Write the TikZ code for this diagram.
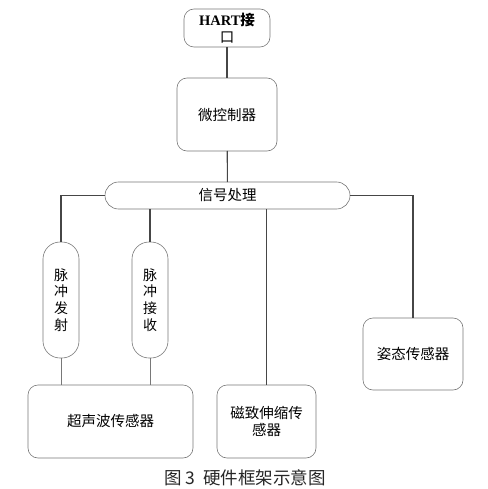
\documentclass[tikz,border=0pt]{standalone}
\usepackage{fontspec}
\setmainfont{Liberation Serif}
\newfontfamily\cjk{Noto Sans CJK SC}
\usetikzlibrary{positioning}
\usetikzlibrary{shapes.misc}
\definecolor{edgegray}{RGB}{120,120,120}
\definecolor{linegray}{RGB}{70,70,70}

\begin{document}
\begin{tikzpicture}[x=1pt,y=-1pt,every node/.style={inner sep=1,outer sep=0,font=\cjk\fontsize{14.5}{17}\selectfont,align=center},
	blk/.style={draw=edgegray,line width=0.6pt,rounded corners=10pt},
	capsule/.style={draw=edgegray,line width=0.6pt,rounded rectangle},
	pulse/.style={draw=edgegray,line width=0.6pt,rounded corners=17pt,minimum width=36pt,minimum height=116pt,font=\cjk\fontsize{14}{16.7}\selectfont},
	wire/.style={draw=linegray,line width=1.1pt},
	thin/.style={draw=edgegray,line width=0.6pt}]
	\useasboundingbox (0,0) rectangle (487,489);
	\node (hart) [blk,minimum width=86pt,minimum height=38pt] at (227,28) {{\rmfamily\bfseries HART}{\cjk\bfseries 接}\\口};
	\node (mcu) [blk,minimum width=100pt,minimum height=73pt] at (227,114.5) {微控制器};
	\node (sig) [capsule,minimum width=247pt,minimum height=27pt] at (227.5,195.5) {信号处理};
	\node (tx) [pulse] at (61,300) {脉\\冲\\发\\射};
	\node (rx) [pulse] at (150,300) {脉\\冲\\接\\收};
	\node (us) [blk,minimum width=165pt,minimum height=73pt] at (110.5,421.5) {超声波传感器};
	\node (mag) [blk,minimum width=99pt,minimum height=73pt] at (266.5,421.5) {磁致伸缩传\\感器};
	\node (att) [blk,minimum width=100pt,minimum height=72pt] at (413,354) {姿态传感器};
	\node (title) [font=\cjk\fontsize{17.5}{19}\selectfont,text=black!85] at (245,478) {图 3\ \ 硬件框架示意图};
	\path[wire]
		(hart) edge (mcu)
		(mcu) edge (sig);
	\draw[wire] (sig.west) -| (tx.north);
	\draw[wire] (sig.east) -| (att.north);
	\draw[wire] (rx.north |- sig.south) -- (rx.north);
	\draw[wire] (mag.north |- sig.south) -- (mag.north);
	\draw[thin] (tx.south) -- (tx.south |- us.north);
	\draw[thin] (rx.south) -- (rx.south |- us.north);
\end{tikzpicture}
\end{document}
